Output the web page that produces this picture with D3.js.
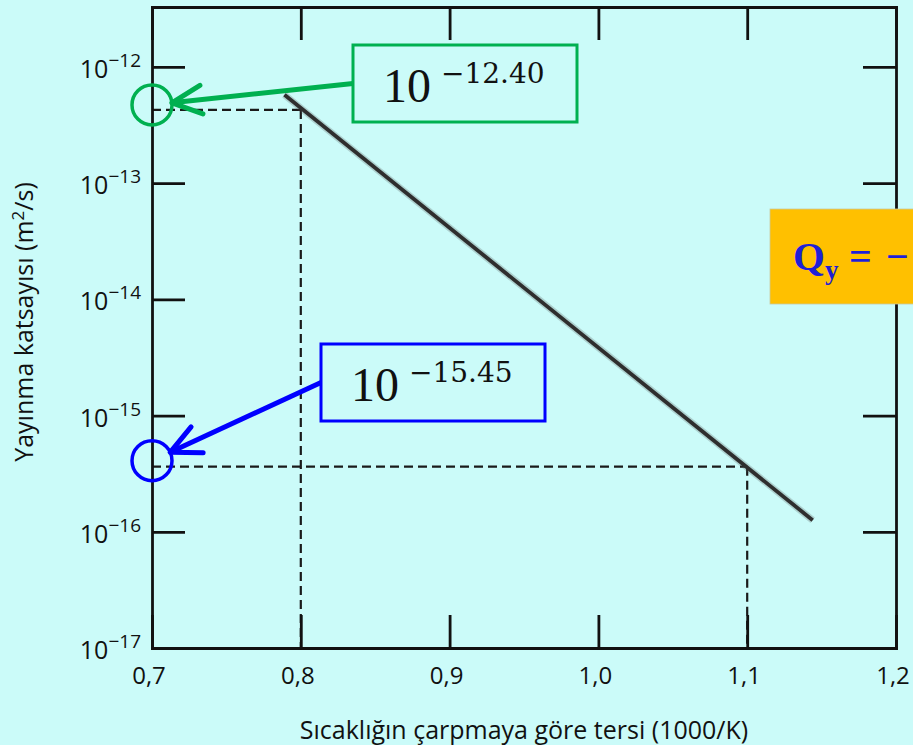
<!DOCTYPE html>
<html>
<head>
<meta charset="utf-8">
<script src="https://cdn.jsdelivr.net/npm/d3@7"></script>
<style>
  body { margin: 0; background: #cbfbf9; }
  svg { display: block; }
</style>
</head>
<body>
<script>
// 데이터
var xTicks = [0.7, 0.8, 0.9, 1.0, 1.1, 1.2];
var xTickLabels = ["0,7", "0,8", "0,9", "1,0", "1,1", "1,2"];
var yTicks = [-12, -13, -14, -15, -16, -17];          // log10 D
var yTickLabels = ["−12", "−13", "−14", "−15", "−16", "−17"];

var lineX = [0.789, 1.144];
var lineLogD = [-12.24, -15.90];

var guideX = [0.8, 1.1];
var guideLogD = [-12.37, -15.44];
var guideLabels = ["−12.40", "−15.45"];
var guideColors = ["#00b050", "#0000ff"];

var W = 913, H = 745;
var sans = "'Open Sans', sans-serif";

var svg = d3.select("body")
            .append("svg")
            .attr("width", W)
            .attr("height", H);

svg.append("rect").attr("width", W).attr("height", H).attr("fill", "#cbfbf9");

var x = d3.scaleLinear().domain([0.7, 1.2]).range([152, 896]);
var y = d3.scaleLog().domain([1e-17, Math.pow(10, -11.484)]).range([648, 7]);
function yy(e) { return y(Math.pow(10, e)); }

// 점선 (guide)
var guides = guideX.map(function(v, i) { return {x: v, e: guideLogD[i]}; });

svg.selectAll("line.gh")
   .data(guides)
   .enter()
   .append("line")
   .attr("x1", x(0.7))
   .attr("y1", function(d) { return yy(d.e); })
   .attr("x2", function(d) { return x(d.x); })
   .attr("y2", function(d) { return yy(d.e); })
   .style("stroke", "#1a1a1a")
   .style("stroke-width", 2.2)
   .style("stroke-dasharray", "9,5");

svg.selectAll("line.gv")
   .data(guides)
   .enter()
   .append("line")
   .attr("x1", function(d) { return x(d.x); })
   .attr("y1", function(d) { return yy(d.e); })
   .attr("x2", function(d) { return x(d.x); })
   .attr("y2", yy(-17))
   .style("stroke", "#1a1a1a")
   .style("stroke-width", 2.2)
   .style("stroke-dasharray", "9,5");

// 확산 직선
var pts = lineX.map(function(v, i) { return [x(v), yy(lineLogD[i])]; });
svg.append("path")
   .attr("d", d3.line()(pts))
   .style("stroke", "#555")
   .style("stroke-width", 7)
   .style("opacity", 0.25)
   .style("fill", "none");
svg.append("path")
   .attr("d", d3.line()(pts))
   .style("stroke", "#2e2e2e")
   .style("stroke-width", 3.8)
   .style("fill", "none");

// 축 (네 변 모두 안쪽 눈금)
var tickLen = 33;
var gL = svg.append("g").attr("transform", "translate(" + x(0.7) + ",0)")
  .call(d3.axisLeft(y).tickValues(yTicks.map(function(e) { return Math.pow(10, e); }))
        .tickSizeInner(-tickLen).tickSizeOuter(0).tickFormat(""));
var gR = svg.append("g").attr("transform", "translate(" + x(1.2) + ",0)")
  .call(d3.axisRight(y).tickValues(yTicks.map(function(e) { return Math.pow(10, e); }))
        .tickSizeInner(-tickLen).tickSizeOuter(0).tickFormat(""));
var gB = svg.append("g").attr("transform", "translate(0," + yy(-17) + ")")
  .call(d3.axisBottom(x).tickValues(xTicks).tickSizeInner(-tickLen).tickSizeOuter(0).tickFormat(""));
var gT = svg.append("g").attr("transform", "translate(0," + y.range()[1] + ")")
  .call(d3.axisTop(x).tickValues(xTicks).tickSizeInner(-tickLen).tickSizeOuter(0).tickFormat(""));

[gL, gR, gB, gT].forEach(function(g) {
  g.selectAll("path, line").style("stroke", "#111").style("stroke-width", 2.8);
  g.select("path").style("stroke-linecap", "square");
});

// y 눈금 글자 10^-n
svg.selectAll("text.ylab")
   .data(yTicks)
   .enter()
   .append("text")
   .attr("x", 141)
   .attr("y", function(d) { return yy(d) + 11; })
   .attr("text-anchor", "end")
   .style("font-family", sans)
   .style("font-weight", 500)
   .style("fill", "#111")
   .each(function(d, i) {
     var t = d3.select(this);
     t.append("tspan").style("font-size", "25px").text("10");
     t.append("tspan").style("font-size", "19px").attr("dy", -11).text(yTickLabels[i]);
   });

// x 눈금 글자
svg.selectAll("text.xlab")
   .data(xTicks)
   .enter()
   .append("text")
   .attr("x", function(d) { return x(d) - 3; })
   .attr("y", 684)
   .attr("text-anchor", "middle")
   .style("font-family", sans)
   .style("font-weight", 500)
   .style("font-size", "24px")
   .style("fill", "#111")
   .text(function(d, i) { return xTickLabels[i]; });

// 축 제목
svg.append("text")
   .attr("x", (x(0.7) + x(1.2)) / 2)
   .attr("y", 739)
   .attr("text-anchor", "middle")
   .style("font-family", sans)
   .style("font-weight", 500)
   .style("font-size", "25px")
   .style("fill", "#111")
   .text("Sıcaklığın çarpmaya göre tersi (1000/K)");

var yt = svg.append("text")
   .attr("transform", "translate(33,322) rotate(-90)")
   .attr("text-anchor", "middle")
   .style("font-family", sans)
   .style("font-weight", 500)
   .style("font-size", "25px")
   .style("fill", "#111");
yt.append("tspan").text("Yayınma katsayısı (m");
yt.append("tspan").attr("dy", -9).style("font-size", "17px").text("2");
yt.append("tspan").attr("dy", 9).text("/s)");

// 주석 (상자, 화살표, 원)
var noteBoxes = [{bx: 353, by: 45}, {bx: 321, by: 344}];
var circleShift = [-5, -6];

guides.forEach(function(d, i) {
  var c = guideColors[i];
  var b = noteBoxes[i];
  var bw = 224, bh = 77;
  var sx = b.bx, sy = b.by + bh / 2;
  var cx = x(0.7), cy = yy(d.e) + circleShift[i];
  // 화살표 끝
  var ang = Math.atan2(sy - cy, sx - cx);
  var tx = cx + 20 * Math.cos(ang), ty = cy + 20 * Math.sin(ang);
  svg.append("circle")
     .attr("cx", cx).attr("cy", cy).attr("r", 20)
     .style("fill", "none").style("stroke", c).style("stroke-width", 3.5);
  svg.append("line")
     .attr("x1", sx).attr("y1", sy).attr("x2", tx).attr("y2", ty)
     .style("stroke", c).style("stroke-width", 5);
  var head = [-0.45, 0.45].map(function(a) {
    return [tx + 33 * Math.cos(ang + a), ty + 33 * Math.sin(ang + a)];
  });
  svg.append("path")
     .attr("d", d3.line()([head[0], [tx, ty], head[1]]))
     .style("fill", "none").style("stroke", c).style("stroke-width", 5)
     .style("stroke-linecap", "round").style("stroke-linejoin", "round");
  svg.append("rect")
     .attr("x", b.bx).attr("y", b.by).attr("width", bw).attr("height", bh)
     .style("fill", "#cbfbf9").style("stroke", c).style("stroke-width", 3);
  var t = svg.append("text")
     .attr("x", b.bx + 30).attr("y", b.by + 57)
     .style("fill", "#111");
  t.append("tspan").style("font-family", "'Liberation Serif', serif").style("font-size", "48px").text("10");
  t.append("tspan").style("font-family", "'DejaVu Serif', serif").style("font-size", "28px")
   .attr("dx", 10).attr("dy", -19).text(guideLabels[i]);
});

// 오른쪽 주황 상자 (잘린 식)
svg.append("rect")
   .attr("x", 770).attr("y", 209).attr("width", 160).attr("height", 95)
   .style("fill", "#ffc000").style("stroke", "#c9c9a0").style("stroke-width", 0.8);
var q = svg.append("text")
   .attr("y", 270)
   .style("font-family", "'Liberation Serif', serif")
   .style("font-weight", "bold")
   .style("fill", "#1f1fd6");
q.append("tspan").attr("x", 793).style("font-size", "41px").text("Q");
q.append("tspan").attr("dy", 9).style("font-size", "27px").text("y");
q.append("tspan").attr("x", 849).attr("dy", -9).style("font-size", "40px").text("=");
q.append("tspan").attr("x", 886).style("font-size", "40px").text("−");
</script>
</body>
</html>
